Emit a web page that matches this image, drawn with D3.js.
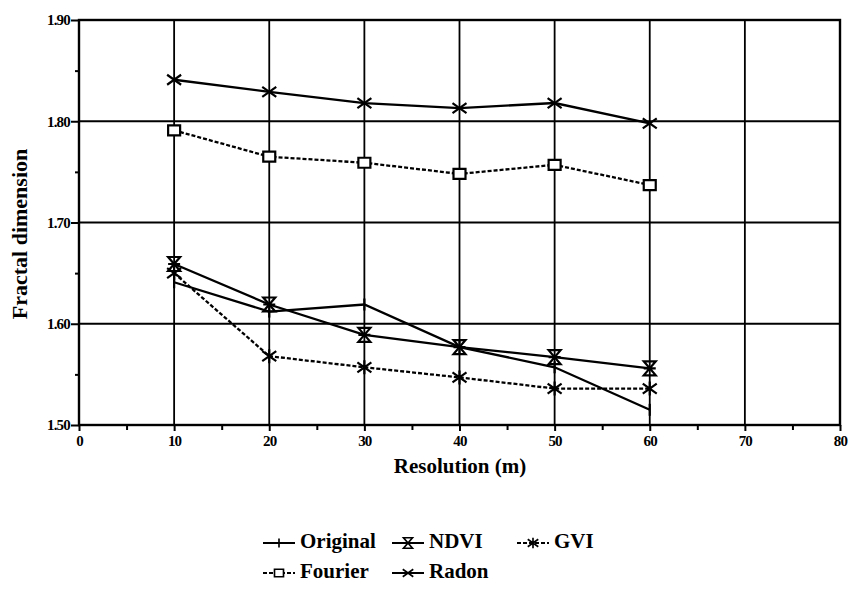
<!DOCTYPE html>
<html>
<head>
<meta charset="utf-8">
<script src="https://cdn.jsdelivr.net/npm/d3@7"></script>
<style>
  body { margin: 0; background: #fff; }
  text { font-family: "Liberation Serif", "Times New Roman", serif; font-weight: bold; fill: #000; }
</style>
</head>
<body>
<div id="chart"></div>
<script>
// values
var resolution = [10, 20, 30, 40, 50, 60];
var original = [1.641, 1.612, 1.619, 1.577, 1.557, 1.515];
var ndvi     = [1.659, 1.619, 1.589, 1.577, 1.567, 1.556];
var gvi      = [1.650, 1.568, 1.557, 1.547, 1.536, 1.536];
var fourier  = [1.791, 1.765, 1.759, 1.748, 1.757, 1.737];
var radon    = [1.841, 1.829, 1.818, 1.813, 1.818, 1.798];

var xTicks = [0, 10, 20, 30, 40, 50, 60, 70, 80];
var yTicks = [1.50, 1.60, 1.70, 1.80, 1.90];

var width = 849, height = 589;

var x = d3.scaleLinear().domain([0, 80]).range([79, 840]);
var y = d3.scaleLinear().domain([1.5, 1.9]).range([425, 20]);

var svg = d3.select("#chart")
  .append("svg")
    .attr("width", width)
    .attr("height", height);

// marker shapes
function marker(type) {
  var p = d3.path();
  if (type == "plus") {
    p.moveTo(0, -6); p.lineTo(0, 6);
  } else if (type == "hourglass") {
    p.moveTo(-6, -7); p.lineTo(6, -7); p.lineTo(-6, 7); p.lineTo(6, 7); p.closePath();
    p.moveTo(-6, 0); p.lineTo(6, 0);
  } else if (type == "star") {
    p.moveTo(0, -7); p.lineTo(0, 7);
    p.moveTo(-7, -5); p.lineTo(7, 5);
    p.moveTo(-7, 5); p.lineTo(7, -5);
  } else if (type == "square") {
    p.rect(-6, -5, 12, 10);
  } else if (type == "cross") {
    p.moveTo(-7, -5); p.lineTo(7, 5);
    p.moveTo(-7, 5); p.lineTo(7, -5);
  }
  return p.toString();
}

var series = [
  {name: "Original", values: original, dash: null, shape: "plus"},
  {name: "NDVI", values: ndvi, dash: null, shape: "hourglass"},
  {name: "GVI", values: gvi, dash: "4,2", shape: "star"},
  {name: "Fourier", values: fourier, dash: "4,2", shape: "square"},
  {name: "Radon", values: radon, dash: null, shape: "cross"}
];

// grid
svg.append("g").selectAll("line")
  .data(xTicks.filter(function(d){ return d > 0 && d < 80; }))
  .enter().append("line")
    .attr("x1", function(d){ return x(d); })
    .attr("x2", function(d){ return x(d); })
    .attr("y1", y(1.5)).attr("y2", y(1.9))
    .attr("stroke", "#000").attr("stroke-width", 1.8);

svg.append("g").selectAll("line")
  .data(yTicks.filter(function(d){ return d > 1.5 && d < 1.9; }))
  .enter().append("line")
    .attr("x1", x(0)).attr("x2", x(80))
    .attr("y1", function(d){ return y(d); })
    .attr("y2", function(d){ return y(d); })
    .attr("stroke", "#000").attr("stroke-width", 1.8);

// frame
svg.append("rect")
  .attr("x", x(0)).attr("y", y(1.9))
  .attr("width", x(80) - x(0)).attr("height", y(1.5) - y(1.9))
  .attr("fill", "none").attr("stroke", "#000").attr("stroke-width", 2.4);

// axes
var xAxis = svg.append("g")
  .attr("transform", "translate(0," + y(1.5) + ")")
  .call(d3.axisBottom(x).tickValues(xTicks).tickSize(6).tickPadding(4).tickFormat(d3.format("d")));
var xMinor = svg.append("g")
  .attr("transform", "translate(0," + y(1.5) + ")")
  .call(d3.axisBottom(x).tickValues(d3.range(5, 80, 10)).tickSize(5).tickFormat(""));

var yAxis = svg.append("g")
  .attr("transform", "translate(" + x(0) + ",0)")
  .call(d3.axisLeft(y).tickValues(yTicks).tickSize(8).tickPadding(1).tickFormat(d3.format(".2f")));
var yMinor = svg.append("g")
  .attr("transform", "translate(" + x(0) + ",0)")
  .call(d3.axisLeft(y).tickValues([1.55, 1.65, 1.75, 1.85]).tickSize(4).tickFormat(""));

[xAxis, xMinor, yAxis, yMinor].forEach(function(g){
  g.select(".domain").remove();
  g.selectAll(".tick line").attr("stroke", "#000").attr("stroke-width", 2);
  g.selectAll("text")
    .style("font-family", "'Liberation Serif', serif")
    .style("font-weight", "bold")
    .style("font-size", "15px")
    .style("letter-spacing", "-0.8px")
    .attr("fill", "#000");
});

// axis titles
svg.append("text")
  .attr("x", 460).attr("y", 473)
  .attr("text-anchor", "middle")
  .style("font-size", "21px")
  .text("Resolution (m)");

svg.append("text")
  .attr("transform", "translate(27,234) rotate(-90)")
  .attr("text-anchor", "middle")
  .style("font-size", "22px")
  .text("Fractal dimension");

// series
var line = d3.line()
  .x(function(d, i){ return x(resolution[i]); })
  .y(function(d){ return y(d); });

series.forEach(function(s){
  svg.append("path")
    .datum(s.values)
    .attr("d", line)
    .attr("fill", "none")
    .attr("stroke", "#000")
    .attr("stroke-width", 2.3)
    .attr("stroke-dasharray", s.dash);

  svg.selectAll(null)
    .data(s.values)
    .enter().append("path")
      .attr("transform", function(d, i){ return "translate(" + x(resolution[i]) + "," + y(d) + ")"; })
      .attr("d", marker(s.shape))
      .attr("fill", s.shape == "square" ? "#fff" : "none")
      .attr("stroke", "#000")
      .attr("stroke-width", 2.2);
});

// legend
var legendPos = [
  {x: 263, y: 548}, {x: 392, y: 548}, {x: 517, y: 548},
  {x: 263, y: 578}, {x: 392, y: 578}
];

var legend = svg.append("g").selectAll("g")
  .data(series)
  .enter().append("g")
    .attr("transform", function(d, i){ return "translate(" + legendPos[i].x + "," + (legendPos[i].y - 5) + ")"; });

legend.append("line")
  .attr("x1", 0).attr("x2", 32)
  .attr("stroke", "#000").attr("stroke-width", 2)
  .attr("stroke-dasharray", function(d){ return d.dash; });

legend.append("path")
  .attr("transform", "translate(16,0) scale(0.75)")
  .attr("d", function(d){ return marker(d.shape); })
  .attr("fill", function(d){ return d.shape == "square" ? "#fff" : "none"; })
  .attr("stroke", "#000").attr("stroke-width", 2.2);

legend.append("text")
  .attr("x", 37).attr("y", 5)
  .style("font-size", "21px")
  .text(function(d){ return d.name; });
</script>
</body>
</html>
